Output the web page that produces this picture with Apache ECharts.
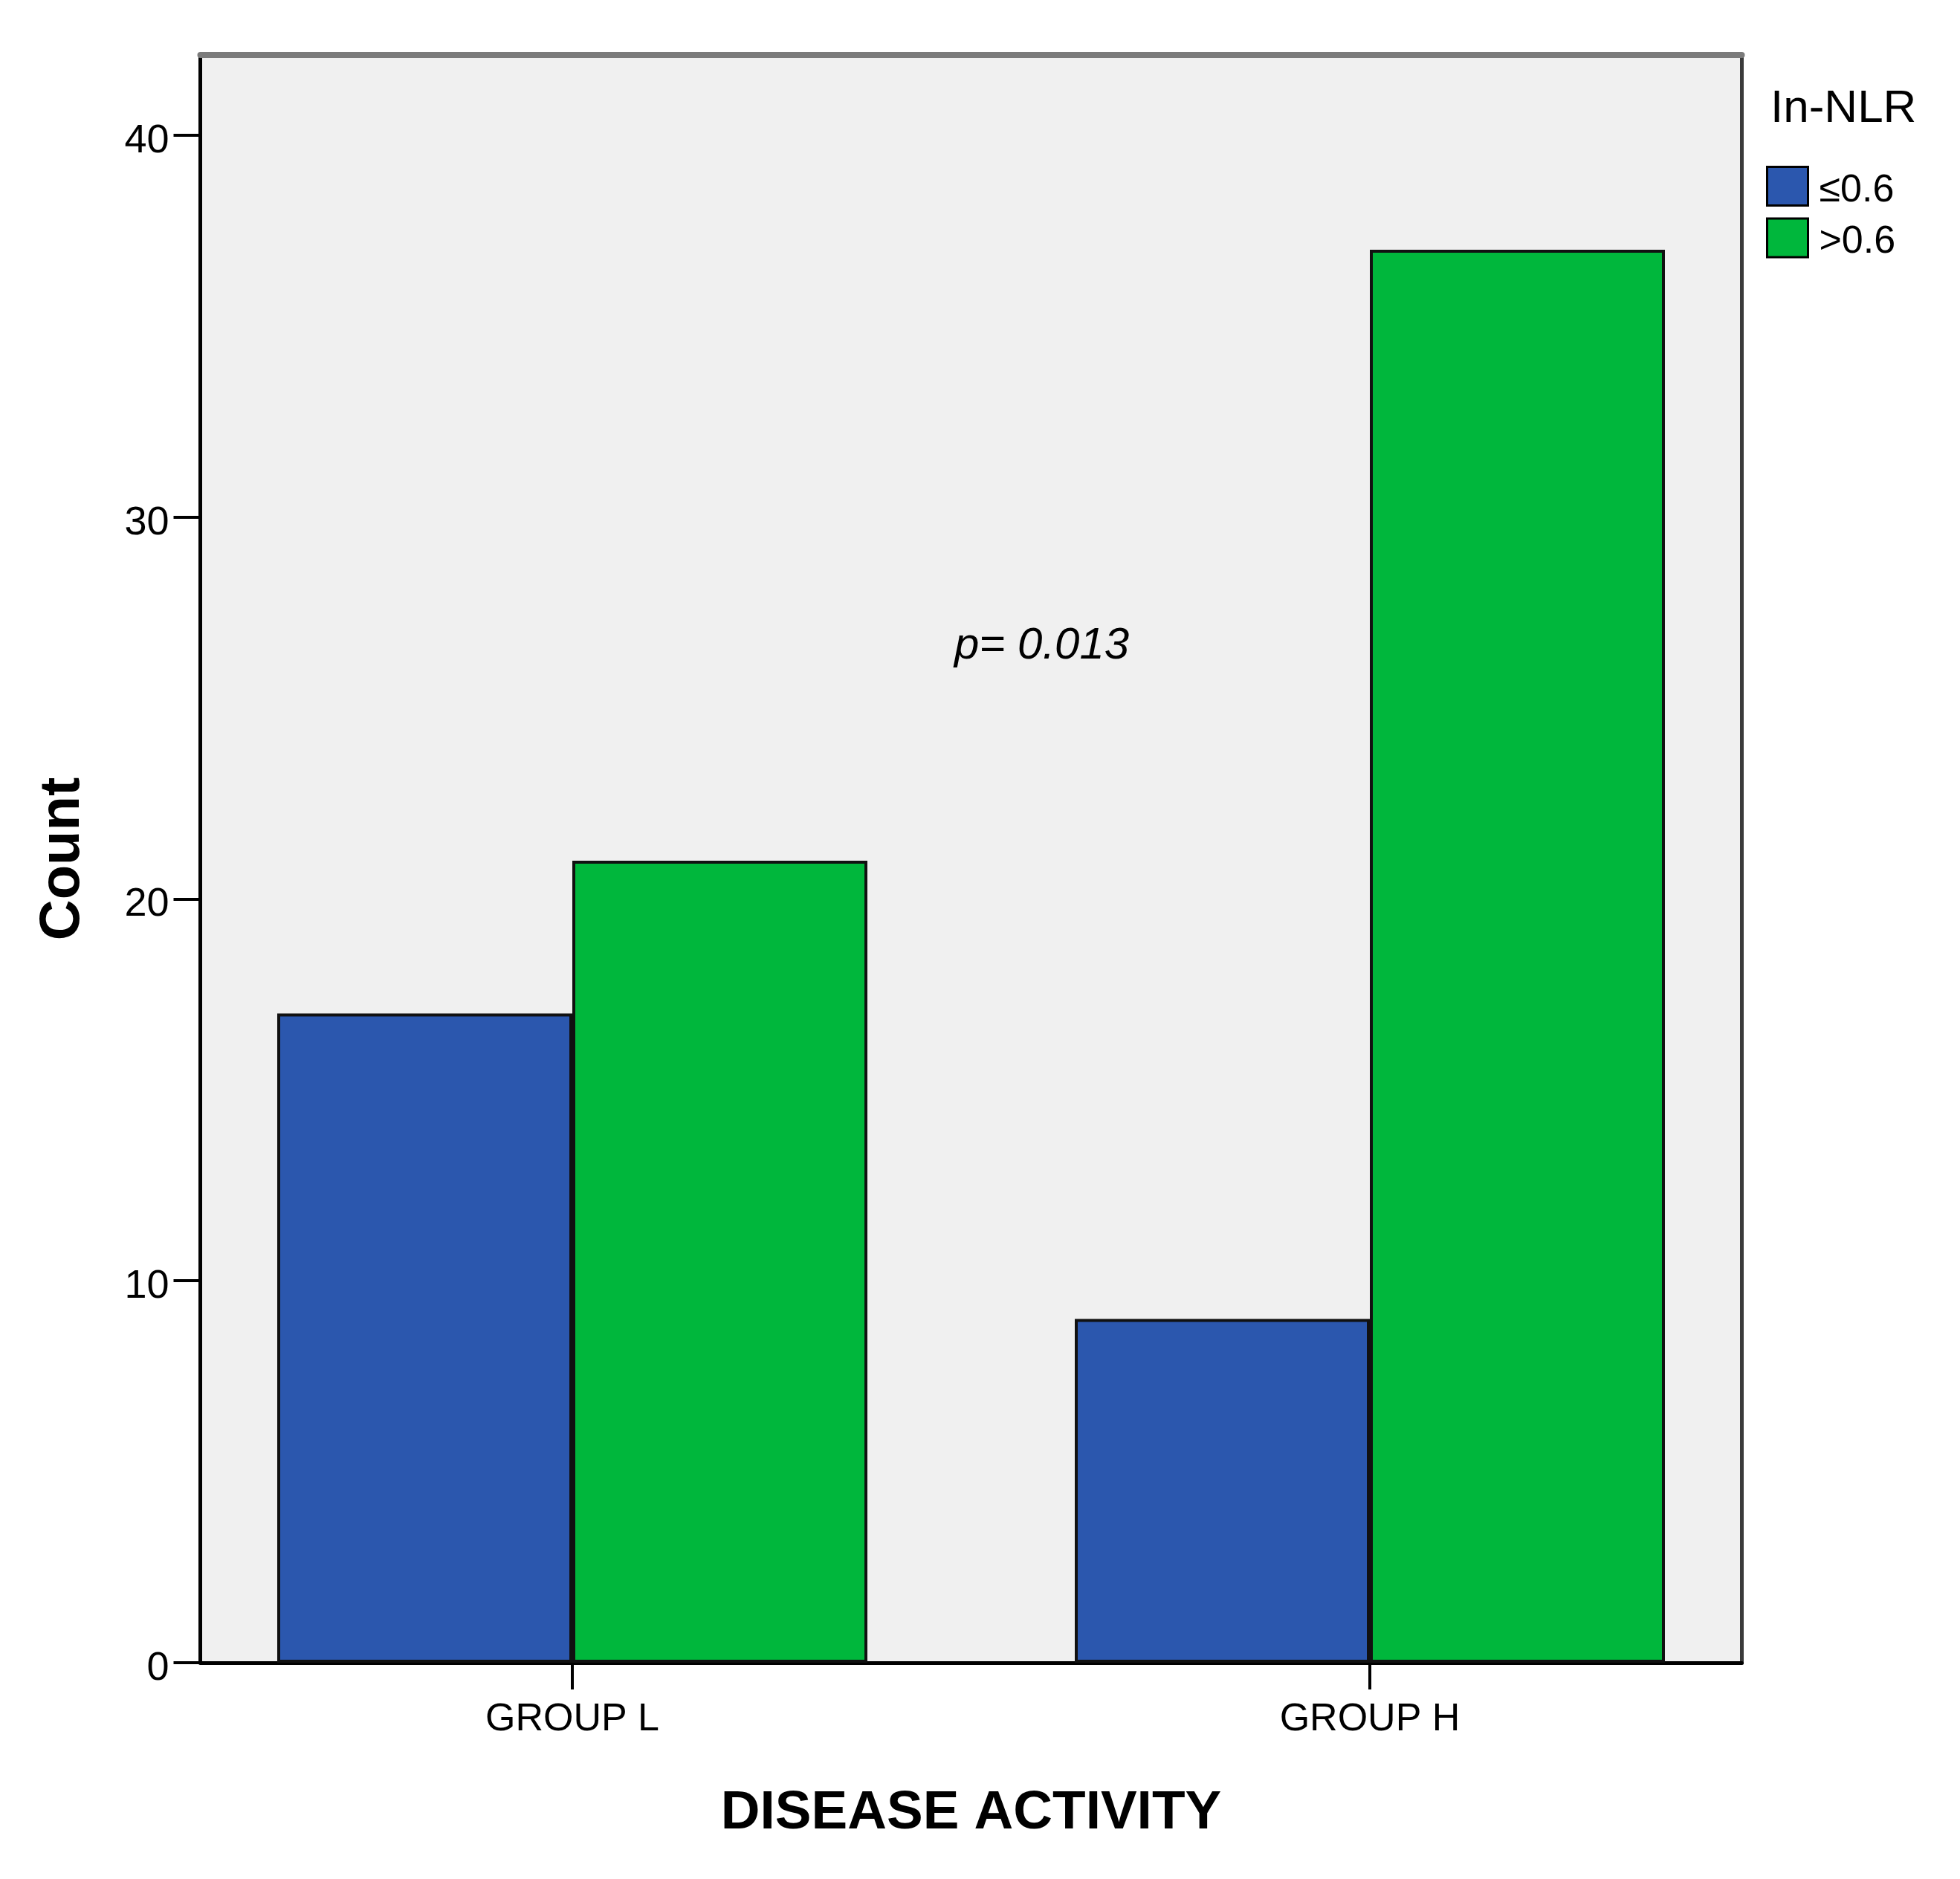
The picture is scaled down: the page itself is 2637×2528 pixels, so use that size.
<!DOCTYPE html>
<html>
<head>
<meta charset="utf-8">
<script src="https://cdn.jsdelivr.net/npm/echarts@6/dist/echarts.min.js"></script>
<style>
  html, body { margin: 0; padding: 0; background: #ffffff; }
  #chart { width: 2637px; height: 2528px; }
</style>
</head>
<body>
<div id="chart"></div>
<script>
const categories = ['GROUP L', 'GROUP H'];
const seriesNames = ['\u22640.6', '>0.6'];
const lowValues = [17, 9];
const highValues = [21, 37];
const yTicks = [0, 10, 20, 30, 40];
const yMax = 42.1;
const legendTitle = 'In-NLR';
const xTitle = 'DISEASE ACTIVITY';
const yTitle = 'Count';
const annotation = 'p= 0.013';

const FONT = '"Liberation Sans", Arial, sans-serif';
const chart = echarts.init(document.getElementById('chart'), null, { renderer: 'canvas' });

const gridTop = 74, gridBottom = 291;
const option = {
  backgroundColor: '#ffffff',
  animation: false,
  title: {
    text: legendTitle,
    left: 2382, top: 116, padding: 0,
    textStyle: { fontFamily: FONT, fontSize: 62, fontWeight: 'normal', color: '#000' }
  },
  legend: {
    orient: 'vertical',
    left: 2376, top: 223, padding: 0,
    itemWidth: 55, itemHeight: 52, itemGap: 10,
    icon: 'rect',
    itemStyle: { borderColor: '#000', borderWidth: 3 },
    formatter: function (name) { return '{t|' + name + '}'; },
    textStyle: {
      fontFamily: FONT, fontSize: 52, color: '#000',
      rich: { t: { fontFamily: FONT, fontSize: 52, color: '#000', padding: [12, 0, 0, 10] } }
    },
    data: seriesNames
  },
  grid: [
    { left: 269.5, right: 293.5, top: gridTop, bottom: gridBottom, show: true, backgroundColor: '#f0f0f0', borderWidth: 0 },
    { left: 233.5, right: 2637 - 233.5 - 2146, top: gridTop, bottom: gridBottom, show: false }
  ],
  xAxis: [
    {
      gridIndex: 0, type: 'value', min: 0, max: 1, position: 'bottom',
      axisLine: { show: true, onZero: false, lineStyle: { color: '#000', width: 5 } },
      axisTick: { show: false }, axisLabel: { show: false }, splitLine: { show: false },
      name: xTitle, nameLocation: 'middle', nameGap: 166,
      nameTextStyle: { fontFamily: FONT, fontSize: 73, fontWeight: 'bold', color: '#000' }
    },
    {
      gridIndex: 0, type: 'value', min: 0, max: 1, position: 'top',
      axisLine: { show: true, onZero: false, lineStyle: { color: '#7b7b7b', width: 8 } },
      axisTick: { show: false }, axisLabel: { show: false }, splitLine: { show: false }
    },
    {
      gridIndex: 1, type: 'category', data: categories, boundaryGap: true, position: 'bottom',
      axisLine: { show: false },
      axisTick: { show: true, alignWithLabel: true, inside: false, length: 36, lineStyle: { color: '#000', width: 4 } },
      axisLabel: { fontFamily: FONT, fontSize: 52, color: '#000', margin: 51 },
      splitLine: { show: false }
    }
  ],
  yAxis: [
    {
      gridIndex: 0, type: 'value', min: 0, max: yMax, position: 'left',
      axisLine: { show: true, onZero: false, lineStyle: { color: '#000', width: 5 } },
      axisTick: { show: true, inside: false, length: 36, customValues: yTicks, lineStyle: { color: '#000', width: 4 } },
      axisLabel: {
        customValues: yTicks, fontFamily: FONT, fontSize: 54, color: '#000', margin: 42,
        formatter: function (v) { return '{v|' + v + '}'; },
        rich: { v: { fontFamily: FONT, fontSize: 54, color: '#000', padding: [16, 0, 0, 0] } }
      },
      splitLine: { show: false },
      name: yTitle, nameLocation: 'middle', nameGap: 146, nameRotate: 90,
      nameTextStyle: { fontFamily: FONT, fontSize: 76, fontWeight: 'bold', color: '#000' }
    },
    {
      gridIndex: 0, type: 'value', min: 0, max: yMax, position: 'right',
      axisLine: { show: true, onZero: false, lineStyle: { color: '#3a3a3a', width: 5 } },
      axisTick: { show: false }, axisLabel: { show: false }, splitLine: { show: false }
    },
    {
      gridIndex: 1, type: 'value', min: 0, max: yMax, show: false
    }
  ],
  series: [
    {
      name: seriesNames[0], type: 'bar', xAxisIndex: 2, yAxisIndex: 2,
      data: lowValues, barWidth: 397, barGap: '0%',
      itemStyle: { color: '#2b57ae', borderColor: '#111', borderWidth: 4 }
    },
    {
      name: seriesNames[1], type: 'bar', xAxisIndex: 2, yAxisIndex: 2,
      data: highValues, barWidth: 397, barGap: '0%',
      itemStyle: { color: '#00b73c', borderColor: '#111', borderWidth: 4 }
    }
  ],
  graphic: [
    {
      type: 'text', left: 1284, top: 839, z: 100,
      style: { text: annotation, font: 'italic 60px ' + FONT, fill: '#000' }
    }
  ]
};
chart.setOption(option);
</script>
</body>
</html>
